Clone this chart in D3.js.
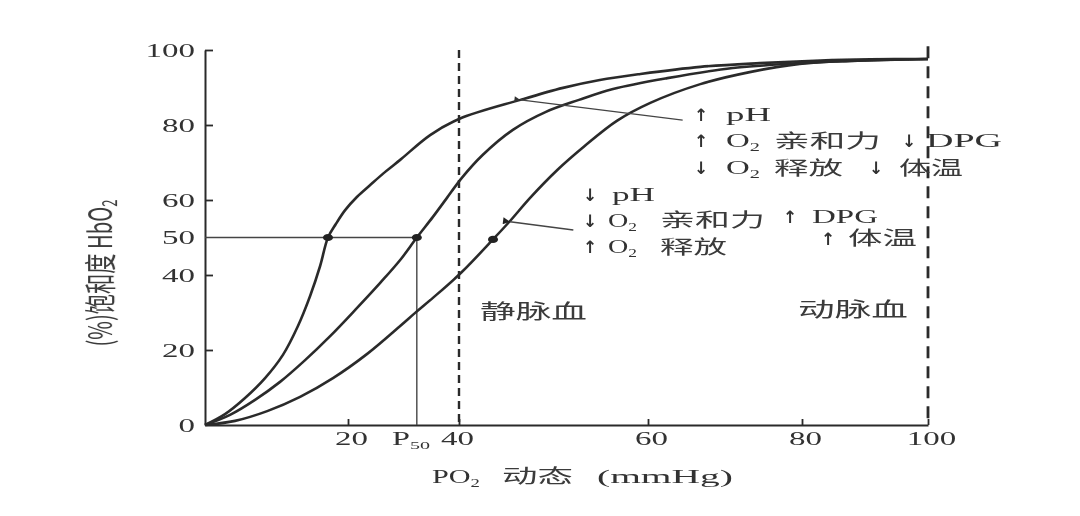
<!DOCTYPE html>
<html><head><meta charset="utf-8">
<script src="https://cdn.jsdelivr.net/npm/d3@7"></script>
<style>body{margin:0;background:#fff}</style>
</head><body><svg id="c" width="1080" height="516"></svg>
<script>
// ---- data (PO2 mmHg, HbO2 saturation %) ----
const xTickValues = [20, 40, 60, 80, 100];
const yTickValues = [0, 20, 40, 50, 60, 80, 100];
const curveLeft = [[0,0],[2.8,2.9],[5.6,7.2],[8.4,12.5],[10.9,18.7],[13.0,26.4],[14.7,34.4],[16.1,42.4],[17.2,50],[18.3,53.6],[19.6,57.3],[21.6,60.8],[24.0,64.0],[26.7,67.5],[29.4,70.7],[34.8,77.3],[40,81.6],[46.5,86.7],[51.0,89.9],[54.9,92.0],[59.2,93.6],[66.8,95.5],[74.5,96.5],[82.9,97.2],[90.8,97.5],[100,97.6]];
const curveMid = [[0,0],[3.5,2.7],[7.0,6.7],[10.5,11.5],[14.0,17.3],[17.5,23.7],[21.3,30.7],[25.8,37.9],[29.4,44.0],[32.4,50],[35.3,55.5],[37.8,60.5],[40.3,65.9],[42.5,72.0],[45.7,78.7],[49.2,83.5],[52.7,86.7],[56.3,89.6],[62.5,92.5],[71.0,95.2],[79.7,96.5],[87.6,97.1],[100,97.6]];
const curveRight = [[0,0],[4.2,1.1],[8.7,3.7],[13.3,7.5],[17.9,12.5],[23.4,18.9],[29.4,26.4],[32.1,29.9],[35.3,33.9],[40.3,40.8],[43.6,49.5],[45.4,54.4],[47.5,60.5],[50.4,68.0],[53.3,74.4],[56.7,81.1],[60.3,85.9],[66.8,90.9],[73.2,94.1],[79.7,96.3],[87.6,97.1],[100,97.6]];
const p50Points = [[17.2,50],[32.4,50],[43.6,49.5]];
const p50Value = 32.4;
const venousPO2 = 40, arterialPO2 = 100;
const pointerUp = [[46.5,86.7],[64.5,81.3]];
const pointerDown = [[45.4,54.2],[52.1,52.0]];

const svg = d3.select('#c');
const defs = svg.append('defs');
defs.append('filter').attr('id','soft').append('feGaussianBlur').attr('stdDeviation',0.5);
defs.append('marker').attr('id','ah').attr('viewBox','0 0 10 10').attr('refX',0).attr('refY',5)
  .attr('markerWidth',9).attr('markerHeight',6).attr('orient','auto-start-reverse').attr('markerUnits','userSpaceOnUse')
  .append('path').attr('d','M10,0 L0,5 L10,10 Z').attr('fill','#333');
defs.append('marker').attr('id','ah2').attr('viewBox','0 0 10 10').attr('refX',0).attr('refY',5)
  .attr('markerWidth',14).attr('markerHeight',7).attr('orient','auto-start-reverse').attr('markerUnits','userSpaceOnUse')
  .append('path').attr('d','M10,0 L0,5 L10,10 Z').attr('fill','#222');
const root = svg.append('g').attr('filter','url(#soft)');

const x = d3.scaleLinear().domain([0,20,40,60,80,100]).range([205,348,459,648,802,928]);
const y = d3.scaleLinear().domain([0,100]).range([425,50]);
const ink = '#2b2b2b';
const serif = '"Liberation Serif", "DejaVu Serif", serif';
const cjk = '"Noto Sans CJK SC", sans-serif';

// axes
const yAxis = root.append('g').attr('transform','translate(205,0)')
  .call(d3.axisLeft(y).tickValues(yTickValues).tickSize(-8).tickSizeOuter(0).tickPadding(10));
yAxis.select('.domain').attr('stroke',ink).attr('stroke-width',2);
yAxis.selectAll('.tick line').attr('stroke',ink).attr('stroke-width',1.8)
  .attr('opacity', d => (d===0||d===50)?0:1);
yAxis.selectAll('.tick text').attr('font-family',serif).attr('font-size',18).attr('fill','#333')
  .attr('textLength', d => String(d).length*16.5).attr('lengthAdjust','spacingAndGlyphs').attr('dy','0.36em');

const xAxis = root.append('g').attr('transform','translate(0,425)')
  .call(d3.axisBottom(x).tickValues(xTickValues).tickSize(-6).tickSizeOuter(0).tickPadding(7));
xAxis.select('.domain').attr('stroke',ink).attr('stroke-width',2);
xAxis.selectAll('.tick line').attr('stroke',ink).attr('stroke-width',1.8);
xAxis.selectAll('.tick text').attr('font-family',serif).attr('font-size',18).attr('fill','#333')
  .attr('textLength', d => String(d).length*16.5).attr('lengthAdjust','spacingAndGlyphs')
  .attr('dx', d => d===40 ? -2 : 3);

// dashed reference lines
root.append('line').attr('x1',x(venousPO2)).attr('x2',x(venousPO2)).attr('y1',y(100)).attr('y2',y(0))
  .attr('stroke',ink).attr('stroke-width',2.4).attr('stroke-dasharray','8 5');
root.append('line').attr('x1',x(arterialPO2)).attr('x2',x(arterialPO2)).attr('y1',y(101)).attr('y2',y(0))
  .attr('stroke',ink).attr('stroke-width',2.8).attr('stroke-dasharray','12 8');

// P50 guide lines
root.append('line').attr('x1',x(0)).attr('x2',x(p50Value)).attr('y1',y(50)).attr('y2',y(50))
  .attr('stroke','#444').attr('stroke-width',1.4);
root.append('line').attr('x1',x(p50Value)).attr('x2',x(p50Value)).attr('y1',y(50)).attr('y2',y(0))
  .attr('stroke','#444').attr('stroke-width',1.4);

// curves
const line = d3.line().x(d=>x(d[0])).y(d=>y(d[1])).curve(d3.curveCatmullRom.alpha(0.5));
[curveLeft, curveMid, curveRight].forEach(c => {
  root.append('path').attr('d', line(c)).attr('fill','none').attr('stroke',ink).attr('stroke-width',2.6);
});
root.selectAll('ellipse.p50').data(p50Points).join('ellipse').attr('class','p50')
  .attr('cx',d=>x(d[0])).attr('cy',d=>y(d[1])).attr('rx',5).attr('ry',3.6).attr('fill','#222');

// pointers
root.append('line').attr('x1',x(pointerUp[0][0])).attr('y1',y(pointerUp[0][1]))
  .attr('x2',x(pointerUp[1][0])).attr('y2',y(pointerUp[1][1]))
  .attr('stroke','#444').attr('stroke-width',1.3).attr('marker-start','url(#ah)');
root.append('line').attr('x1',x(pointerDown[0][0])).attr('y1',y(pointerDown[0][1]))
  .attr('x2',x(pointerDown[1][0])).attr('y2',y(pointerDown[1][1]))
  .attr('stroke','#444').attr('stroke-width',1.3).attr('marker-start','url(#ah2)');

// text helper: parts = [[string, isSub]]
function txt(px, py, parts, o={}) {
  const t = root.append('text').attr('x',px).attr('y',py)
    .attr('font-family', o.cjk ? cjk : (o.arrow ? '"DejaVu Sans", sans-serif' : serif))
    .attr('font-size', o.size || 19).attr('fill', o.fill || '#333')
    .attr('text-anchor', o.anchor || 'start');
  if (o.arrow) t.attr('font-weight','bold');
  if (typeof parts === 'string') parts = [[parts,false]];
  parts.forEach(([s,sub]) => {
    const ts = t.append('tspan').text(s);
    if (sub) ts.attr('font-size', (o.size||19)*0.62).attr('dy', 4);
  });
  if (o.len) t.attr('textLength', o.len).attr('lengthAdjust','spacingAndGlyphs');
  return t;
}
const O2 = [['O',false],['2',true]];
const A = {arrow:true,size:17,anchor:'middle'};

// P50 label
txt(392, 445, [['P',false],['50',true]], {size:18, len:38});

// annotation block (high affinity)
txt(701,121,'↑',A);
txt(726,121,'pH',{len:45});
txt(701,147,'↑',A);
txt(726,147,O2,{len:34});
txt(774,148,'亲和力',{cjk:true,size:19,len:107,fill:'#3a3a3a'});
txt(909,147,'↓',A);
txt(926,147,'DPG',{len:76});
txt(701,174,'↓',A);
txt(726,174,O2,{len:34});
txt(774,175,'释放',{cjk:true,size:19,len:69,fill:'#3a3a3a'});
txt(876,174,'↓',A);
txt(899,175,'体温',{cjk:true,size:19,len:64,fill:'#3a3a3a'});

// annotation block (low affinity)
txt(590,201,'↓',A);
txt(612,201,'pH',{len:43});
txt(590,227,'↓',A);
txt(608,227,O2,{len:29});
txt(660,227,'亲和力',{cjk:true,size:19,len:105,fill:'#3a3a3a'});
txt(790,223,'↑',A);
txt(812,223,'DPG',{len:66});
txt(590,253,'↑',A);
txt(608,253,O2,{len:29});
txt(660,254,'释放',{cjk:true,size:19,len:67,fill:'#3a3a3a'});
txt(828,245,'↑',A);
txt(848,245,'体温',{cjk:true,size:19,len:69,fill:'#3a3a3a'});

// region labels
txt(480,319,'静脉血',{cjk:true,size:20,len:107,fill:'#3a3a3a'});
txt(798,317,'动脉血',{cjk:true,size:20,len:110,fill:'#3a3a3a'});

// x title
txt(432,483,[['PO',false],['2',true]],{size:19,len:48});
txt(502,483,'动态',{cjk:true,size:19,len:71,fill:'#3a3a3a'});
txt(597,483,'(mmHg)',{size:19,len:136});

// y title
root.append('text').attr('transform','translate(100,273) scale(1.9,1) rotate(-90)')
  .attr('text-anchor','middle').attr('dy','0.36em')
  .attr('font-family',cjk).attr('font-size',17).attr('fill','#3a3a3a')
  .attr('textLength',147).attr('lengthAdjust','spacingAndGlyphs')
  .call(t => { t.append('tspan').text('(%)饱和度 HbO'); t.append('tspan').text('2').attr('font-size',11).attr('dy',3); });
</script></body></html>
